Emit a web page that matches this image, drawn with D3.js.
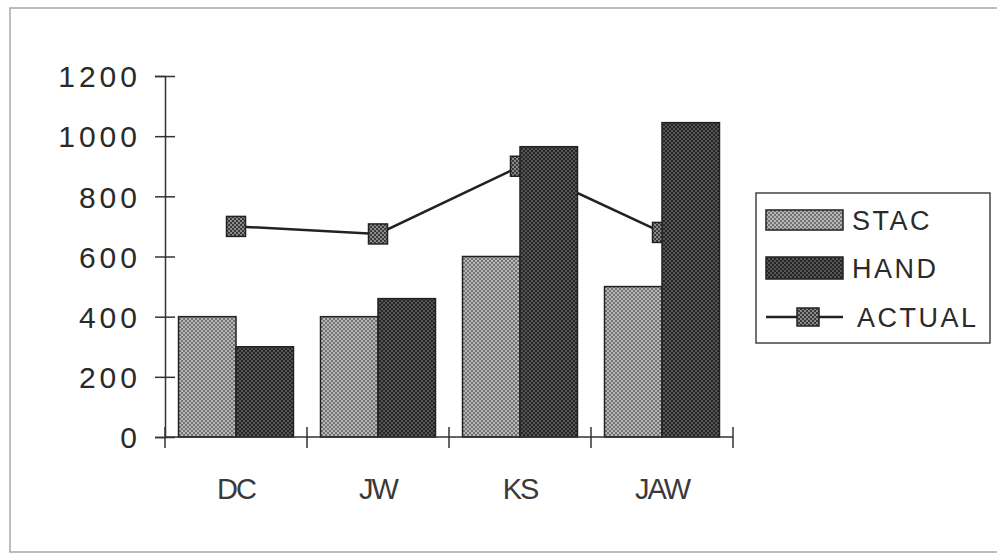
<!DOCTYPE html>
<html>
<head>
<meta charset="utf-8">
<script src="https://cdn.jsdelivr.net/npm/d3@7"></script>
<style>
  html, body { margin: 0; padding: 0; background: #fff; }
  svg { display: block; }
  text { font-family: "Liberation Sans", Arial, Helvetica, sans-serif; }
</style>
</head>
<body>
<svg id="chart" width="997" height="554"></svg>
<script>
// Chart data
const categories = ["DC", "JW", "KS", "JAW"];
const seriesNames = ["STAC", "HAND"];
const stacValues = [400, 400, 600, 500];
const handValues = [300, 460, 965, 1045];
const actualValues = [700, 675, 900, 680];
const yTicks = [0, 200, 400, 600, 800, 1000, 1200];
const legendLabels = ["STAC", "HAND", "ACTUAL"];

const svg = d3.select("#chart");

// Dithered fills in the style of an old halftone print
const defs = svg.append("defs");
function dither(id, light, dark) {
  const p = defs.append("pattern")
    .attr("id", id).attr("width", 4).attr("height", 4)
    .attr("patternUnits", "userSpaceOnUse");
  p.append("rect").attr("width", 4).attr("height", 4).attr("fill", light);
  p.append("rect").attr("width", 2).attr("height", 2).attr("fill", dark);
  p.append("rect").attr("x", 2).attr("y", 2).attr("width", 2).attr("height", 2).attr("fill", dark);
}
dither("fillStac", "#b8b8b8", "#727272");
dither("fillHand", "#555555", "#262626");
dither("fillMarker", "#8a8a8a", "#3a3a3a");
const fills = { STAC: "url(#fillStac)", HAND: "url(#fillHand)" };

// Outer frame
svg.append("rect")
  .attr("x", 10).attr("y", 8).attr("width", 1000).attr("height", 544)
  .attr("fill", "none").attr("stroke", "#a8a8a8").attr("stroke-width", 1.5);

// Scales
const y = d3.scaleLinear().domain([0, 1200]).range([437, 76]);
const x = d3.scaleBand().domain(categories).range([165, 733]).padding(0);
const x1 = d3.scaleBand().domain(seriesNames).range([0, x.bandwidth()])
  .paddingInner(0).paddingOuter(0.235);

const rows = categories.map((c, i) => ({
  cat: c,
  vals: [{ key: "STAC", v: stacValues[i] }, { key: "HAND", v: handValues[i] }],
  actual: actualValues[i]
}));

// ACTUAL line and markers sit behind the bars
const cx = d => x(d.cat) + x.bandwidth() / 2;
svg.append("path")
  .datum(rows)
  .attr("fill", "none").attr("stroke", "#222").attr("stroke-width", 2.5)
  .attr("d", d3.line().x(cx).y(d => y(d.actual)));

const mw = 19, mh = 20;
svg.selectAll(".marker").data(rows).join("rect")
  .attr("class", "marker")
  .attr("x", d => cx(d) - mw / 2).attr("y", d => y(d.actual) - mh / 2)
  .attr("width", mw).attr("height", mh)
  .attr("fill", "url(#fillMarker)").attr("stroke", "#222").attr("stroke-width", 1.5);

// Bars
const groups = svg.selectAll(".grp").data(rows).join("g")
  .attr("class", "grp")
  .attr("transform", d => `translate(${x(d.cat)},0)`);
groups.selectAll("rect").data(d => d.vals).join("rect")
  .attr("x", d => x1(d.key)).attr("width", x1.bandwidth())
  .attr("y", d => y(d.v)).attr("height", d => y(0) - y(d.v))
  .attr("fill", d => fills[d.key])
  .attr("stroke", "#222").attr("stroke-width", 1.5);

// Y axis with ticks crossing the axis line
const yAxis = svg.append("g")
  .attr("transform", "translate(165,0)")
  .call(d3.axisLeft(y).tickValues(yTicks).tickFormat(d3.format("d"))
    .tickSize(10).tickPadding(14));
yAxis.select(".domain").attr("stroke", "#333").attr("stroke-width", 1.5);
yAxis.selectAll(".tick line").attr("x1", 10).attr("stroke", "#333").attr("stroke-width", 1.5);
yAxis.selectAll(".tick text")
  .attr("font-size", 30).attr("letter-spacing", "4px").attr("fill", "#2a2a2a")
  .attr("dy", "0.36em");

// X axis with category ticks at band edges
const edges = categories.map(c => x(c)).concat([x.range()[1]]);
const xAxis = svg.append("g");
xAxis.append("line")
  .attr("x1", x.range()[0]).attr("x2", x.range()[1])
  .attr("y1", y(0)).attr("y2", y(0))
  .attr("stroke", "#333").attr("stroke-width", 1.5);
xAxis.selectAll(".xt").data(edges).join("line")
  .attr("x1", d => d).attr("x2", d => d)
  .attr("y1", y(0) - 10).attr("y2", y(0) + 11)
  .attr("stroke", "#333").attr("stroke-width", 1.5);
xAxis.selectAll(".xl").data(categories).join("text")
  .attr("x", d => x(d) + x.bandwidth() / 2).attr("y", 499)
  .attr("text-anchor", "middle")
  .attr("font-size", 29).attr("letter-spacing", "-2px").attr("fill", "#3a3a3a")
  .text(d => d);

// Legend
const lg = svg.append("g");
lg.append("rect")
  .attr("x", 756).attr("y", 193).attr("width", 234).attr("height", 150)
  .attr("fill", "#fff").attr("stroke", "#444").attr("stroke-width", 1.5);
const rowY = [220, 268, 317];
lg.append("rect").attr("x", 766).attr("y", rowY[0] - 10).attr("width", 77).attr("height", 20)
  .attr("fill", fills.STAC).attr("stroke", "#222").attr("stroke-width", 1.5);
lg.append("rect").attr("x", 766).attr("y", rowY[1] - 11).attr("width", 77).attr("height", 22)
  .attr("fill", fills.HAND).attr("stroke", "#222").attr("stroke-width", 1.5);
lg.append("line").attr("x1", 766).attr("x2", 843).attr("y1", rowY[2]).attr("y2", rowY[2])
  .attr("stroke", "#222").attr("stroke-width", 2.5);
lg.append("rect").attr("x", 808 - 11).attr("y", rowY[2] - 9).attr("width", 22).attr("height", 18)
  .attr("fill", "url(#fillMarker)").attr("stroke", "#222").attr("stroke-width", 1.5);
lg.selectAll(".lt").data(legendLabels).join("text")
  .attr("x", (d, i) => i === 2 ? 857 : 852).attr("y", (d, i) => rowY[i])
  .attr("dy", "0.36em")
  .attr("font-size", 27).attr("letter-spacing", "2.5px").attr("fill", "#2a2a2a")
  .text(d => d);
</script>
</body>
</html>
